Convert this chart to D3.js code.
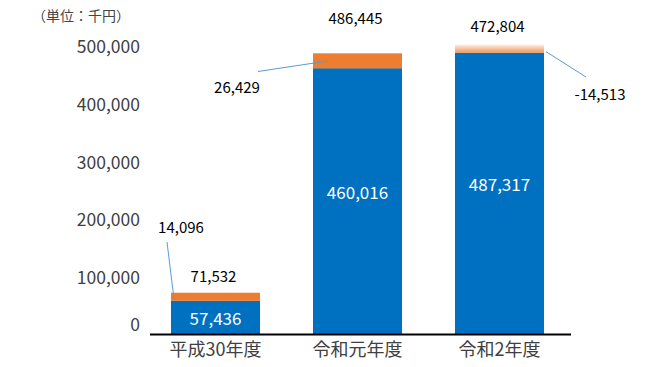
<!DOCTYPE html>
<html>
<head>
<meta charset="utf-8">
<script src="https://cdn.jsdelivr.net/npm/d3@7/dist/d3.min.js"></script>
<style>
  html, body { margin: 0; padding: 0; background: #fff; }
  svg { display: block; }
  text { font-family: "Noto Sans CJK JP", "Noto Sans", sans-serif; }
</style>
</head>
<body>
<svg id="chart" width="667" height="367"></svg>
<script>
// ---- data ----
const categories = ["平成30年度", "令和元年度", "令和2年度"];
const baseValues = [57436, 460016, 487317];
const changeValues = [14096, 26429, -14513];
const totalValues = [71532, 486445, 472804];
const yTickValues = [0, 100000, 200000, 300000, 400000, 500000];
const unitLabel = "（単位：千円）";

// ---- layout ----
const svg = d3.select("#chart");

const x = d3.scaleBand()
  .domain(categories)
  .range([144.5, 570.5])
  .paddingInner(0.373)
  .paddingOuter(0.1865);

const y = d3.scaleLinear()
  .domain([0, 500000])
  .range([334, 45.5]);

const fmt = d3.formatLocale({
  decimal: ".", thousands: ",", grouping: [3], currency: ["", ""], minus: "-"
}).format(",");

// gradient for negative change
const defs = svg.append("defs");
const grad = defs.append("linearGradient")
  .attr("id", "negGrad").attr("x1", 0).attr("y1", 0).attr("x2", 0).attr("y2", 1);
grad.append("stop").attr("offset", "0%").attr("stop-color", "#fdf1e8");
grad.append("stop").attr("offset", "100%").attr("stop-color", "#f2955a");

// unit label
svg.append("text")
  .attr("x", 81).attr("y", 16).attr("dy", "0.35em")
  .attr("text-anchor", "middle")
  .attr("font-size", 14).attr("fill", "#444")
  .text(unitLabel);

// y axis labels (no line)
const yAxis = d3.axisLeft(y)
  .tickValues(yTickValues)
  .tickFormat(fmt)
  .tickSize(0)
  .tickPadding(0);
const yg = svg.append("g").attr("transform", "translate(140,0)").call(yAxis);
yg.select(".domain").remove();
yg.selectAll("text")
  .attr("font-family", "Noto Sans CJK JP")
  .attr("font-size", 17.5)
  .attr("fill", "#404040")
  .attr("dy", d => d === 0 ? "-0.18em" : "0.42em");

// bars: base (blue)
const idx = d3.range(categories.length);
svg.append("g").selectAll("rect.base")
  .data(idx).join("rect")
  .attr("class", "base")
  .attr("x", i => x(categories[i]))
  .attr("width", x.bandwidth())
  .attr("y", i => y(baseValues[i]))
  .attr("height", i => y(0) - y(baseValues[i]))
  .attr("fill", "#0070c0");

// change segment (orange), stacked by absolute value
svg.append("g").selectAll("rect.chg")
  .data(idx).join("rect")
  .attr("class", "chg")
  .attr("x", i => x(categories[i]))
  .attr("width", x.bandwidth())
  .attr("y", i => y(baseValues[i] + Math.abs(changeValues[i])))
  .attr("height", i => y(baseValues[i]) - y(baseValues[i] + Math.abs(changeValues[i])))
  .attr("fill", i => changeValues[i] < 0 ? "url(#negGrad)" : "#ed7d31");

// thin separator between segments (positive changes)
svg.append("g").selectAll("line.sep")
  .data(idx.filter(i => changeValues[i] > 0 && i > 0)).join("line")
  .attr("x1", i => x(categories[i]))
  .attr("x2", i => x(categories[i]) + x.bandwidth())
  .attr("y1", i => y(baseValues[i])).attr("y2", i => y(baseValues[i]))
  .attr("stroke", "#6b7f90").attr("stroke-width", 1);

// x axis baseline
svg.append("line")
  .attr("x1", 150).attr("x2", 571)
  .attr("y1", y(0) + 0.5).attr("y2", y(0) + 0.5)
  .attr("stroke", "#000").attr("stroke-width", 2);

// category labels
const xAxis = d3.axisBottom(x).tickSize(0).tickPadding(0);
const xg = svg.append("g").attr("transform", `translate(0,${y(0)})`).call(xAxis);
xg.select(".domain").remove();
xg.selectAll("text")
  .attr("font-family", "Noto Sans CJK JP")
  .attr("font-size", 18)
  .attr("fill", "#404040")
  .attr("dy", "1.2em");

// base value labels (white, inside)
svg.append("g").selectAll("text")
  .data(idx).join("text")
  .attr("x", i => x(categories[i]) + x.bandwidth() / 2)
  .attr("y", i => i === 0 ? y(baseValues[i] / 2) + 2 : y(baseValues[i] / 2) - 8)
  .attr("dy", "0.35em")
  .attr("text-anchor", "middle")
  .attr("font-size", 17)
  .attr("fill", "#fff")
  .text(i => fmt(baseValues[i]));

// total labels above bars
const totalGap = [16, 35, 18];
svg.append("g").selectAll("text")
  .data(idx).join("text")
  .attr("x", i => x(categories[i]) + x.bandwidth() / 2 - 2)
  .attr("y", i => y(baseValues[i] + Math.abs(changeValues[i])) - totalGap[i])
  .attr("dy", "0.35em")
  .attr("text-anchor", "middle")
  .attr("font-size", 15)
  .attr("fill", "#000")
  .text(i => fmt(totalValues[i]));

// change labels with leader lines
const changeLabelPos = [[181, 228], [237, 87.5], [600, 95]];
const leaderStartOffset = [[-14, 14], [21, -16], [-14, -18]];
const leaderEnd = i => {
  const midY = y(baseValues[i] + Math.abs(changeValues[i]) / 2);
  if (i === 2) return [x(categories[i]) + x.bandwidth() + 2, midY + 3];
  if (i === 1) return [x(categories[i]) + 15, midY];
  return [x(categories[i]) + 3, midY + 2];
};
const lg = svg.append("g");
idx.forEach(i => {
  const [lx, ly] = changeLabelPos[i];
  const [ox, oy] = leaderStartOffset[i];
  const [ex, ey] = leaderEnd(i);
  lg.append("line")
    .attr("x1", lx + ox).attr("y1", ly + oy)
    .attr("x2", ex).attr("y2", ey)
    .attr("stroke", "#5b9bd5").attr("stroke-width", 1);
  lg.append("text")
    .attr("x", lx).attr("y", ly)
    .attr("dy", "0.35em")
    .attr("text-anchor", "middle")
    .attr("font-size", 15)
    .attr("fill", "#000")
    .text(fmt(changeValues[i]));
});
</script>
</body>
</html>
